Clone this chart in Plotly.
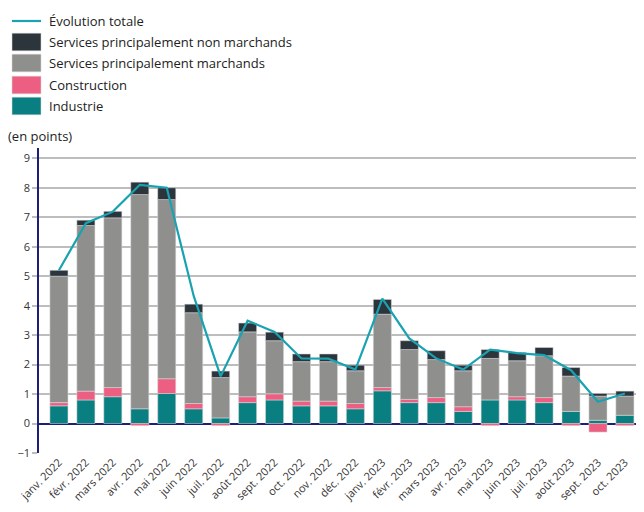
import plotly.graph_objects as go

months = ["janv. 2022", "févr. 2022", "mars 2022", "avr. 2022", "mai 2022", "juin 2022",
          "juil. 2022", "août 2022", "sept. 2022", "oct. 2022", "nov. 2022", "déc. 2022",
          "janv. 2023", "févr. 2023", "mars 2023", "avr. 2023", "mai 2023", "juin 2023",
          "juil. 2023", "août 2023", "sept. 2023", "oct. 2023"]

industrie = [0.60, 0.80, 0.91, 0.50, 1.02, 0.50, 0.19, 0.71, 0.80, 0.60, 0.60, 0.50,
             1.11, 0.71, 0.71, 0.41, 0.80, 0.80, 0.71, 0.41, 0.11, 0.28]
construction = [0.11, 0.30, 0.31, -0.07, 0.50, 0.18, -0.07, 0.20, 0.21, 0.16, 0.16, 0.18,
                0.11, 0.11, 0.17, 0.16, -0.07, 0.11, 0.17, -0.07, -0.29, -0.07]
serv_march = [4.29, 5.62, 5.76, 7.27, 6.08, 3.08, 1.37, 2.20, 1.80, 1.34, 1.34, 1.11,
              2.49, 1.69, 1.29, 1.22, 1.41, 1.22, 1.42, 1.20, 0.82, 0.65]
serv_non_march = [0.20, 0.18, 0.22, 0.42, 0.40, 0.29, 0.22, 0.30, 0.29, 0.26, 0.26, 0.19,
                  0.50, 0.30, 0.30, 0.19, 0.30, 0.28, 0.28, 0.29, 0.09, 0.17]
evolution_totale = [5.20, 6.80, 7.19, 8.10, 8.00, 4.33, 1.60, 3.49, 3.11, 2.21, 2.20, 1.83,
                    4.24, 2.89, 2.21, 1.83, 2.51, 2.39, 2.32, 1.81, 0.74, 1.02]

y_ticks = [-1, 0, 1, 2, 3, 4, 5, 6, 7, 8, 9]

C_IND = "#0a7f81"
C_CON = "#ec5f82"
C_SM = "#8f8f8e"
C_SNM = "#2c343c"
C_LINE = "#19a2b1"

FONT = "Open Sans"
OFF = 8  # page body margin
W, H = 636, 504
ML, MR, MT, MB = 31, 4, 140, 59
PW, PH = W - ML - MR, H - MT - MB

fig = go.Figure()
edge = dict(color="rgba(215,215,215,0.9)", width=0.6)
for name, vals, col in [("Industrie", industrie, C_IND),
                        ("Construction", construction, C_CON),
                        ("Services principalement marchands", serv_march, C_SM),
                        ("Services principalement non marchands", serv_non_march, C_SNM)]:
    fig.add_trace(go.Bar(x=months, y=vals, name=name, marker=dict(color=col, line=edge),
                         width=0.67, showlegend=False))

fig.add_trace(go.Scatter(x=months, y=evolution_totale, mode="lines", name="Évolution totale",
                         line=dict(color=C_LINE, width=2.2), showlegend=False))


# custom legend (screen pixel positions converted to paper coordinates)
def px_x(p):
    return (p - OFF - ML) / PW


def px_y(p):
    return (H - MB - (p - OFF)) / PH


shapes = []
annotations = []
legend_items = [("line", "Évolution totale", C_LINE, 21),
                ("rect", "Services principalement non marchands", C_SNM, 42),
                ("rect", "Services principalement marchands", C_SM, 63),
                ("rect", "Construction", C_CON, 85),
                ("rect", "Industrie", C_IND, 106)]
for kind, label, col, yc in legend_items:
    if kind == "line":
        shapes.append(dict(type="line", xref="paper", yref="paper",
                           x0=px_x(12), x1=px_x(41), y0=px_y(yc), y1=px_y(yc),
                           line=dict(color=col, width=2.2)))
    else:
        shapes.append(dict(type="rect", xref="paper", yref="paper",
                           x0=px_x(12), x1=px_x(41), y0=px_y(yc - 8.8), y1=px_y(yc + 8.8),
                           fillcolor=col, line=dict(color="rgba(215,215,215,0.9)", width=0.6)))
    annotations.append(dict(text=label, xref="paper", yref="paper", x=px_x(47), y=px_y(yc),
                            xanchor="left", yanchor="middle", showarrow=False,
                            font=dict(family=FONT, size=13, color="#222222")))

annotations.append(dict(text="(en points)", xref="paper", yref="paper", x=px_x(6), y=px_y(136),
                        xanchor="left", yanchor="middle", showarrow=False,
                        font=dict(family=FONT, size=13, color="#222222")))

fig.update_layout(
    width=W, height=H,
    margin=dict(l=ML, r=MR, t=MT, b=MB, pad=0),
    barmode="relative",
    bargap=0.33,
    plot_bgcolor="white", paper_bgcolor="white",
    font=dict(family=FONT, size=11, color="#333333"),
    shapes=shapes, annotations=annotations,
    showlegend=False,
    xaxis=dict(type="category", range=[-0.74, 21.56], tickangle=-45, showgrid=False,
               showline=False, ticks="", tickfont=dict(size=11, color="#333333"),
               fixedrange=True, automargin=False),
    yaxis=dict(range=[-1, 9.35], tickvals=y_ticks, showgrid=True, gridcolor="#bdbdbd",
               gridwidth=1.5, zeroline=True, zerolinecolor="#1b1f7a", zerolinewidth=1.5,
               showline=True, linecolor="#1b1f7a", linewidth=1.5, ticks="outside",
               ticklen=5, tickcolor="#bdbdbd", tickwidth=1.5,
               tickfont=dict(size=11, color="#333333"), fixedrange=True, automargin=False),
)

fig.write_html("out.html")
